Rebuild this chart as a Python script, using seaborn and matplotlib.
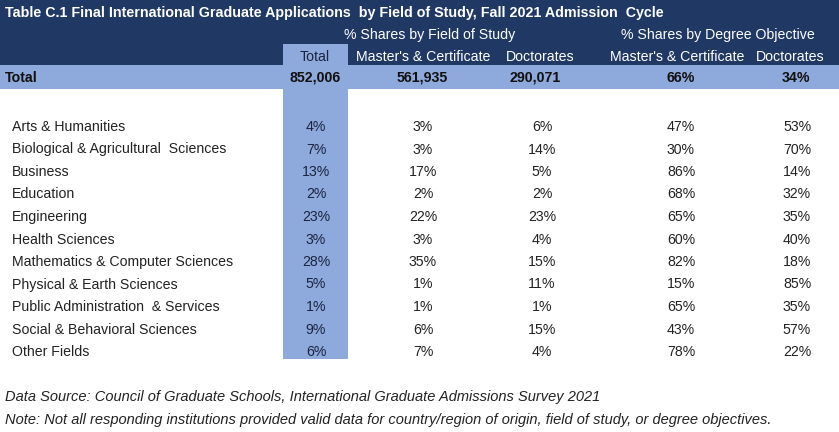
import matplotlib
matplotlib.use('Agg')
import matplotlib.pyplot as plt
import matplotlib.patches as mpatches
import seaborn as sns
import pandas as pd

# DATA
fields = ["Arts & Humanities", "Biological & Agricultural  Sciences", "Business", "Education",
          "Engineering", "Health Sciences", "Mathematics & Computer Sciences",
          "Physical & Earth Sciences", "Public Administration  & Services",
          "Social & Behavioral Sciences", "Other Fields"]
total_share = [4, 7, 13, 2, 23, 3, 28, 5, 1, 9, 6]
masters_share = [3, 3, 17, 2, 22, 3, 35, 1, 1, 6, 7]
doctorates_share = [6, 14, 5, 2, 23, 4, 15, 11, 1, 15, 4]
masters_objective = [47, 30, 86, 68, 65, 60, 82, 15, 65, 43, 78]
doctorates_objective = [53, 70, 14, 32, 35, 40, 18, 85, 35, 57, 22]
total_counts = [852006, 561935, 290071]
total_objective = [66, 34]

title = "Table C.1 Final International Graduate Applications  by Field of Study, Fall 2021 Admission  Cycle"
group_labels = ["% Shares by Field of Study", "% Shares by Degree Objective"]
col_labels = ["Total", "Master's & Certificate", "Doctorates", "Master's & Certificate", "Doctorates"]
notes = ["Data Source: Council of Graduate Schools, International Graduate Admissions Survey 2021",
         "Note: Not all responding institutions provided valid data for country/region of origin, field of study, or degree objectives."]

df = pd.DataFrame({"field": fields, "total": total_share, "m_share": masters_share,
                   "d_share": doctorates_share, "m_obj": masters_objective,
                   "d_obj": doctorates_objective})

sns.set_theme(style="white")
plt.rcParams['font.family'] = ['Liberation Sans', 'DejaVu Sans']

NAVY = "#203864"
LIGHT = "#8EA9DB"
W, H = 839, 432

fig = plt.figure(figsize=(W / 100, H / 100), dpi=100)
ax = fig.add_axes([0, 0, 1, 1])
ax.set_xlim(0, W)
ax.set_ylim(H, 0)
ax.axis('off')

# layout (pixels)
col_x = [316, 423, 542, 681, 797]
head_x = [315, 423, 540, 677, 790]
total_row_x = [315, 422, 535, 681, 796]
row0, row_step = 127, 22.5

# backgrounds
ax.add_patch(mpatches.Rectangle((0, 0), W, 65, color=NAVY, lw=0))
ax.add_patch(mpatches.Rectangle((283, 44), 65, 21, color=LIGHT, lw=0))
ax.add_patch(mpatches.Rectangle((0, 65), W, 24, color=LIGHT, lw=0))
ax.add_patch(mpatches.Rectangle((283, 89), 65, 270, color=LIGHT, lw=0))

fs = 10.2
ax.text(5, 13, title, color="white", fontsize=10.3, fontweight="bold", ha="left", va="center")
ax.text(430, 35, group_labels[0], color="white", fontsize=fs, ha="center", va="center")
ax.text(718, 35, group_labels[1], color="white", fontsize=fs, ha="center", va="center")
for i, lab in enumerate(col_labels):
    ax.text(head_x[i], 57, lab, color="#1a2440" if i == 0 else "white", fontsize=fs,
            ha="center", va="center")

# total row
ax.text(5, 78, "Total", fontsize=fs, fontweight="bold", color="#111111", ha="left", va="center")
total_texts = [f"{v:,}" for v in total_counts] + [f"{v}%" for v in total_objective]
for x, t in zip(total_row_x, total_texts):
    ax.text(x, 78, t, fontsize=fs, fontweight="bold", color="#111111", ha="center", va="center")

# body
cols = ["total", "m_share", "d_share", "m_obj", "d_obj"]
for r, row in df.iterrows():
    y = row0 + r * row_step
    ax.text(12, y, row["field"], fontsize=fs, color="#222222", ha="left", va="center")
    for j, c in enumerate(cols):
        ax.text(col_x[j], y, f"{row[c]}%", fontsize=fs,
                color="#1a2440" if j == 0 else "#222222", ha="center", va="center")

# footnotes
ax.text(5, 397, notes[0], fontsize=10.5, style="italic", color="#222222", ha="left", va="center")
ax.text(5, 420, notes[1], fontsize=10.5, style="italic", color="#222222", ha="left", va="center")

fig.savefig("out.png", dpi=100)
